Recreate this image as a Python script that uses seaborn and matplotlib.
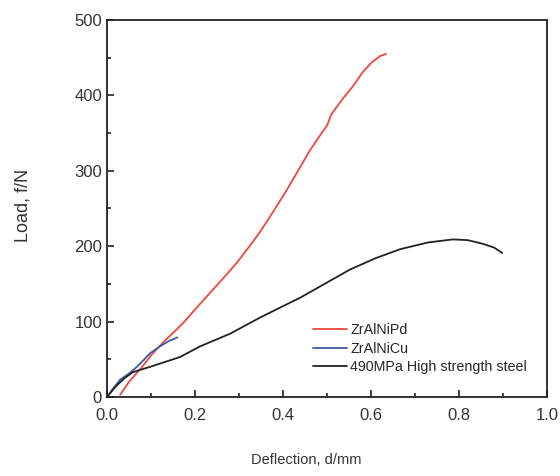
import matplotlib
matplotlib.use("Agg")
import matplotlib.pyplot as plt
from matplotlib.ticker import MultipleLocator
import seaborn as sns
import pandas as pd

# Load-deflection curves
pd_defl = [0.03, 0.05, 0.08, 0.10, 0.127, 0.15, 0.173, 0.20, 0.234, 0.265, 0.295, 0.32,
           0.348, 0.378, 0.408, 0.435, 0.461, 0.49, 0.50, 0.51, 0.535, 0.56, 0.58,
           0.60, 0.62, 0.634]
pd_load = [3, 20, 40, 55, 72, 85, 98, 116, 138, 158, 178, 197,
           219, 246, 274, 301, 327, 352, 360, 375, 395, 413, 430,
           443, 452, 455]

cu_defl = [0.0, 0.015, 0.03, 0.05, 0.068, 0.085, 0.098, 0.12, 0.14, 0.16]
cu_load = [0, 12, 23, 31, 40, 50, 58, 67, 74, 79]

st_defl = [0.0, 0.02, 0.04, 0.059, 0.098, 0.166, 0.211, 0.28, 0.35, 0.44, 0.552,
           0.61, 0.666, 0.73, 0.786, 0.82, 0.855, 0.88, 0.898]
st_load = [0, 14, 25, 33, 40, 53, 67, 84, 106, 132, 169,
           184, 196, 205, 209, 208, 203, 198, 191]

labels = ["ZrAlNiPd", "ZrAlNiCu", "490MPa High strength steel"]
colors = ["#f0473c", "#3a5aa8", "#222222"]

df = pd.concat([
    pd.DataFrame({"Deflection": pd_defl, "Load": pd_load, "Material": labels[0]}),
    pd.DataFrame({"Deflection": cu_defl, "Load": cu_load, "Material": labels[1]}),
    pd.DataFrame({"Deflection": st_defl, "Load": st_load, "Material": labels[2]}),
])

sns.set_style("ticks")
plt.rcParams['font.family'] = ['Liberation Sans', 'DejaVu Sans']

fig = plt.figure(figsize=(5.6, 4.76), dpi=100)
ax = fig.add_axes([0.191, 0.166, 0.786, 0.792])

sns.lineplot(data=df, x="Deflection", y="Load", hue="Material", hue_order=labels,
             palette=colors, sort=False, estimator=None, linewidth=1.3, ax=ax)

ax.set_xlim(0, 1.0)
ax.set_ylim(0, 500)
ax.xaxis.set_major_locator(MultipleLocator(0.2))
ax.xaxis.set_minor_locator(MultipleLocator(0.1))
ax.yaxis.set_major_locator(MultipleLocator(100))
ax.yaxis.set_minor_locator(MultipleLocator(50))
ax.tick_params(which="both", direction="in", labelsize=12, width=1.2,
               color="#222222", labelcolor="#333333")
ax.tick_params(axis="x", pad=8)
ax.tick_params(which="major", length=5)
ax.tick_params(which="minor", length=3)
for s in ax.spines.values():
    s.set_linewidth(1.3)
    s.set_color("#222222")

ax.set_xlabel("Deflection, d/mm", fontsize=10.5, color="#333333", va="center")
ax.set_ylabel("Load, f/N", fontsize=13, color="#333333", va="center", ha="center")
ax.xaxis.set_label_coords(0.452, -0.167)
ax.yaxis.set_label_coords(-0.19, 0.509)

ax.legend(loc="lower left", bbox_to_anchor=(0.468, 0.06), frameon=False, fontsize=10.3,
          borderpad=0, borderaxespad=0, handlelength=2.4, handletextpad=0.2,
          labelspacing=0.33)

fig.savefig("out.png", dpi=100)
